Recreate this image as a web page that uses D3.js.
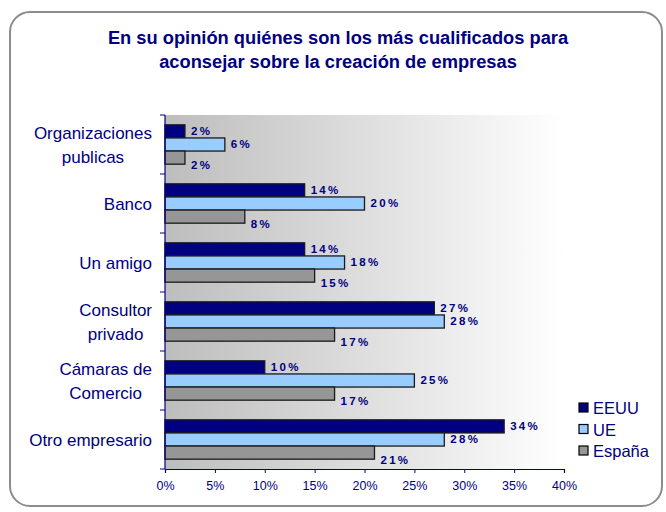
<!DOCTYPE html>
<html>
<head>
<meta charset="utf-8">
<script src="https://cdn.jsdelivr.net/npm/d3@7"></script>
<style>
  body { margin: 0; background: #fff; }
  text { font-family: "Liberation Sans", Arial, sans-serif; }
</style>
</head>
<body>
<div id="chart"></div>
<script>
// data
var categories = [
  ["Organizaciones", "publicas"],
  ["Banco"],
  ["Un amigo"],
  ["Consultor", "privado"],
  ["Cámaras de", "Comercio"],
  ["Otro empresario"]
];
var seriesNames = ["EEUU", "UE", "España"];
var eeuu = [2, 14, 14, 27, 10, 34];
var ue = [6, 20, 18, 28, 25, 28];
var espana = [2, 8, 15, 17, 17, 21];
var xTicks = [0, 5, 10, 15, 20, 25, 30, 35, 40];
var colors = ["#000080", "#99ccff", "#969696"];
var navy = "#000080";

var width = 666, height = 512;
var plotL = 165, plotR = 564, plotT = 115, plotB = 469;

var svg = d3.select("#chart").append("svg")
    .attr("width", width)
    .attr("height", height);

// frame
svg.append("rect")
    .attr("x", 10).attr("y", 12)
    .attr("width", 652).attr("height", 494)
    .attr("rx", 20)
    .attr("fill", "#fff")
    .attr("stroke", "#8c8c8c")
    .attr("stroke-width", 2);

// title
var titleLines = ["En su opinión quiénes son los más cualificados para",
                  "aconsejar sobre la creación de empresas"];
titleLines.forEach(function(t, i) {
  svg.append("text")
    .attr("x", 338).attr("y", 44 + i * 24)
    .attr("text-anchor", "middle")
    .attr("font-size", 18.3).attr("font-weight", "bold")
    .attr("fill", navy)
    .text(t);
});

// plot background gradient
var grad = svg.append("defs").append("linearGradient")
    .attr("id", "bg")
    .attr("x1", "0%").attr("x2", "100%").attr("y1", "0%").attr("y2", "0%");
grad.append("stop").attr("offset", "0%").attr("stop-color", "#bdbdbd");
grad.append("stop").attr("offset", "100%").attr("stop-color", "#ffffff");

svg.append("rect")
    .attr("x", plotL).attr("y", plotT)
    .attr("width", plotR - plotL).attr("height", plotB - plotT)
    .attr("fill", "url(#bg)");

// scales
var x = d3.scaleLinear().domain([0, 40]).range([plotL, plotR]);
var y = d3.scaleBand().domain(d3.range(categories.length)).range([plotT, plotB]);
var inner = d3.scaleBand().domain(d3.range(seriesNames.length))
    .range([0, y.bandwidth()]).paddingOuter(0.75).paddingInner(0);

var series = [eeuu, ue, espana];
var labelShift = [0, -1, 7];

series.forEach(function(vals, s) {
  var g = svg.append("g");
  g.selectAll("rect")
    .data(vals)
    .enter()
    .append("rect")
    .attr("x", x(0))
    .attr("y", function(d, i) { return y(i) + inner(s); })
    .attr("width", function(d) { return x(d) - x(0); })
    .attr("height", inner.bandwidth())
    .attr("fill", colors[s])
    .attr("stroke", "#1a1a1a")
    .attr("stroke-width", 1.3);

  g.selectAll("text")
    .data(vals)
    .enter()
    .append("text")
    .attr("x", function(d) { return x(d) + 6; })
    .attr("y", function(d, i) { return y(i) + inner(s) + inner.bandwidth() / 2 + 4 + labelShift[s]; })
    .attr("font-size", 11.5).attr("font-weight", "bold")
    .attr("letter-spacing", 2.3)
    .attr("fill", navy)
    .text(function(d) { return d + "%"; });
});

// axes
var xAxis = svg.append("g")
    .attr("transform", "translate(0," + plotB + ")")
    .call(d3.axisBottom(x).tickValues(xTicks).tickSize(4).tickFormat(function(d) { return d + "%"; }));
xAxis.select(".domain").attr("stroke", navy).attr("stroke-width", 1.2);
xAxis.selectAll(".tick line").attr("stroke", navy);
xAxis.selectAll(".tick text")
    .attr("fill", navy)
    .attr("font-size", 12.5)
    .attr("font-family", "Liberation Sans, Arial, sans-serif")
    .attr("y", 8)
    .attr("dy", "1em");

var yAxis = svg.append("g").attr("transform", "translate(" + plotL + ",0)");
yAxis.append("line")
    .attr("x1", 0).attr("x2", 0).attr("y1", plotT).attr("y2", plotB)
    .attr("stroke", navy).attr("stroke-width", 1.2);
yAxis.selectAll("line.tk")
    .data(d3.range(categories.length + 1))
    .enter()
    .append("line")
    .attr("class", "tk")
    .attr("x1", -5).attr("x2", 0)
    .attr("y1", function(d) { return plotT + d * y.step(); })
    .attr("y2", function(d) { return plotT + d * y.step(); })
    .attr("stroke", navy);

// category labels, lines centred on each other, block right-aligned
categories.forEach(function(lines, i) {
  var cy = y(i) + y.bandwidth() / 2;
  var lh = 24;
  var g = svg.append("g");
  var texts = lines.map(function(line, k) {
    return g.append("text")
      .attr("y", cy + (k - (lines.length - 1) / 2) * lh + 6)
      .attr("font-size", 17)
      .attr("fill", navy)
      .attr("text-anchor", "middle")
      .text(line);
  });
  var maxW = d3.max(texts, function(t) { return t.node().getComputedTextLength(); });
  texts.forEach(function(t) { t.attr("x", 152 - maxW / 2); });
});

// legend
var legend = svg.append("g");
seriesNames.forEach(function(name, i) {
  legend.append("rect")
    .attr("x", 579).attr("y", 403 + i * 21.5)
    .attr("width", 9).attr("height", 9)
    .attr("fill", colors[i])
    .attr("stroke", "#000").attr("stroke-width", 1.2);
  legend.append("text")
    .attr("x", 593).attr("y", 414 + i * 21.5)
    .attr("font-size", 16.5)
    .attr("fill", navy)
    .text(name);
});
</script>
</body>
</html>
